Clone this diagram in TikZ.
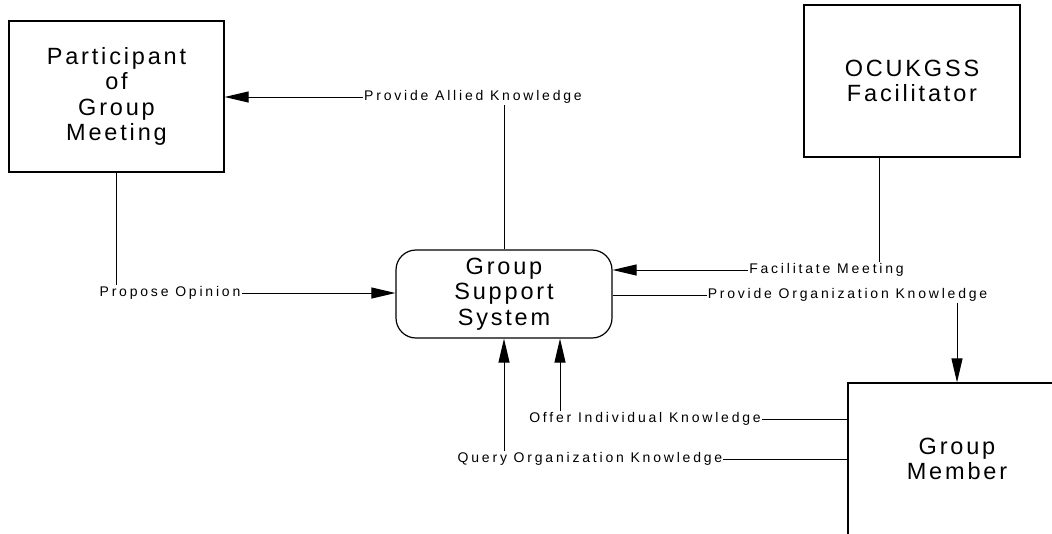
\documentclass[tikz,border=0pt]{standalone}
\usepackage{fontspec}
\setmainfont{Liberation Sans}
\newfontfamily\boxfont[LetterSpace=12]{Liberation Sans}
\newfontfamily\flowfont[LetterSpace=20]{Liberation Sans}
\usetikzlibrary{arrows.meta}

\begin{document}
\begin{tikzpicture}[x=1pt, y=-1pt,
  entitynode/.style={shape=rectangle, draw=black, line width=1.2, minimum width=216, minimum height=152, align=center, font=\boxfont\fontsize{23.5}{25.5}\selectfont },
  processnode/.style={shape=rectangle, rounded corners=20, draw=black, line width=1.2, minimum width=216, minimum height=88, align=center, font=\boxfont\fontsize{23.5}{25.5}\selectfont },
  flownode/.style={inner sep=1, font=\flowfont\fontsize{14}{16}\selectfont },
  flowline/.style={draw=black, line width=1 },
  flowarrow/.style={flowline, -{Triangle[length=24, width=11]} },
]

%PAGE
\clip (0,0) rectangle (1052,533);

%%ENTITIES
\node[entitynode, minimum width=215, minimum height=151] (participant) at (116.5,96.5) {Participant\\of\\Group\\Meeting};
\node[entitynode] (facilitator) at (912,81) {OCUKGSS\\Facilitator};
\node[entitynode, minimum width=218] (member) at (957,459) {Group\\Member};
\node[processnode] (gss) at (504,294) {Group\\Support\\System};

%%FLOW LABELS
\node[flownode] (allied) at (473,97) {Provide Allied Knowledge};
\node[flownode] (propose) at (170,293) {Propose Opinion};
\node[flownode] (facmeet) at (826.5,270) {Facilitate Meeting};
\node[flownode] (orgknow) at (847.5,295) {Provide Organization Knowledge};
\node[flownode] (offer) at (645,419) {Offer Individual Knowledge};
\node[flownode] (query) at (590,459) {Query Organization Knowledge};

\coordinate (facdrop) at (879,0);
\coordinate (offerup) at (560,0);

%%FLOWS
\draw[flowline] (gss.north) -- (gss.north |- allied.south);
\draw[flowarrow] (allied.west) -- (allied.west -| participant.east);

\draw[flowline] (participant.south) -- (participant.south |- propose.north);
\draw[flowarrow] (propose.east) -- (propose.east -| gss.west);

\draw[flowline] (facilitator.south -| facdrop) -- (facmeet.north -| facdrop);
\draw[flowarrow] (facmeet.west) -- (facmeet.west -| gss.east);

\draw[flowline] (gss.east |- orgknow.west) -- (orgknow.west);
\draw[flowarrow] (orgknow.south -| member.north) -- (member.north);

\draw[flowline] (member.west |- offer.east) -- (offer.east);
\draw[flowarrow] (offer.north -| offerup) -- (gss.south -| offerup);

\draw[flowline] (member.west |- query.east) -- (query.east);
\draw[flowarrow] (query.north -| gss.south) -- (gss.south);

\end{tikzpicture}
\end{document}
